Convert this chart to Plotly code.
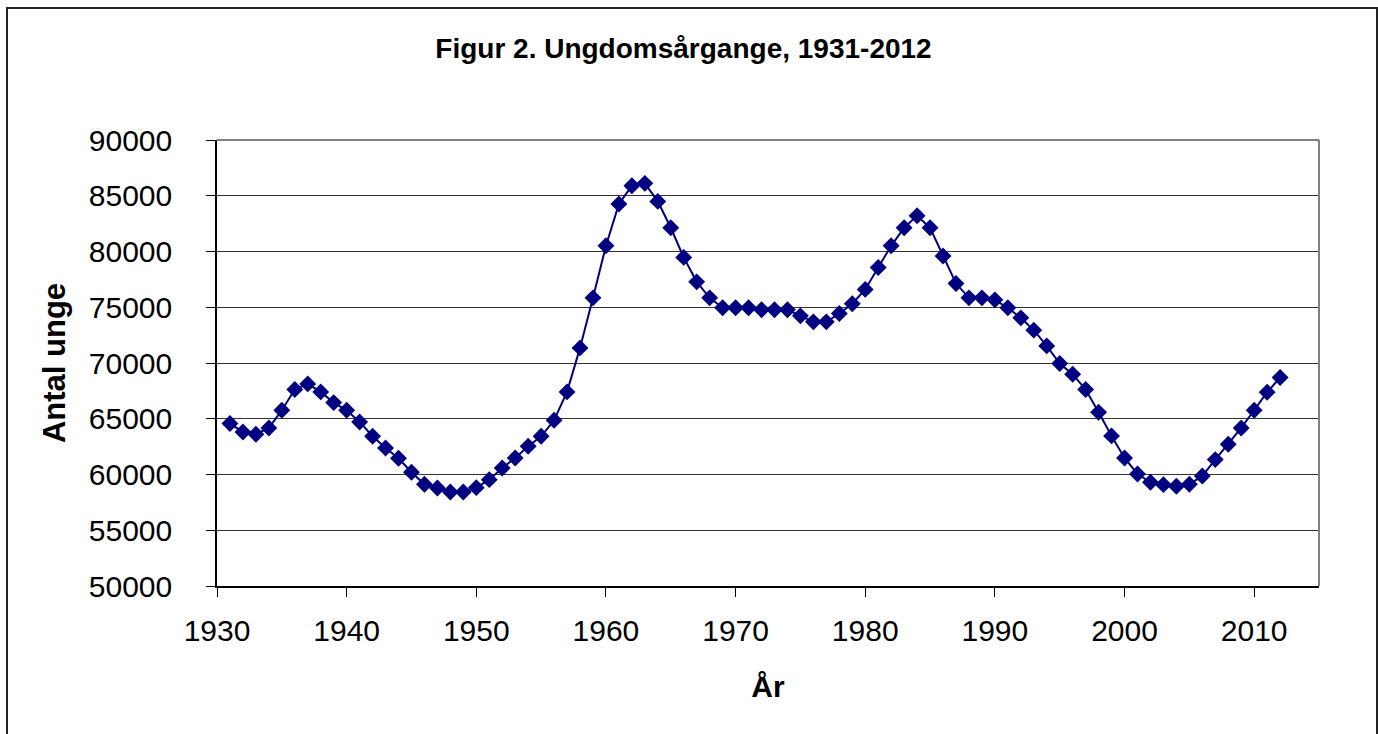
import plotly.graph_objects as go

years = list(range(1931, 2013))
antal = [
    64570, 63815, 63610, 64175, 65760, 67620, 68125, 67410, 66450, 65760,  # 1931-1940
    64715, 63430, 62380, 61455, 60200, 59120, 58790, 58430, 58430, 58820,  # 1941-1950
    59540, 60585, 61480, 62530, 63430, 64865, 67410, 71355, 75845, 80510,  # 1951-1960
    84255, 85900, 86110, 84495, 82130, 79470, 77280, 75845, 74950, 74950,  # 1961-1970
    74950, 74770, 74770, 74770, 74230, 73690, 73690, 74440, 75310, 76600,  # 1971-1980
    78570, 80510, 82130, 83205, 82130, 79590, 77135, 75845, 75845, 75665,  # 1981-1990
    74950, 74050, 72945, 71535, 69955, 68995, 67620, 65580, 63460, 61480,  # 1991-2000
    60045, 59300, 59090, 58940, 59120, 59870, 61335, 62710, 64175, 65760,  # 2001-2010
    67380, 68700,                                                          # 2011-2012
]

title_text = "Figur 2. Ungdomsårgange, 1931-2012"
x_title = "År"
y_title = "Antal unge"
x_ticks = [1930, 1940, 1950, 1960, 1970, 1980, 1990, 2000, 2010]
y_ticks = [50000, 55000, 60000, 65000, 70000, 75000, 80000, 85000, 90000]

FONT = "Liberation Sans, Arial, sans-serif"
W, H = 1378, 734
L, R, T, B = 217, 1319, 140, 586

fig = go.Figure()
fig.add_trace(go.Scatter(
    x=years, y=antal, mode="lines+markers",
    line=dict(color="#000080", width=2),
    marker=dict(symbol="diamond", size=13, color="#000080"),
    showlegend=False,
))

fig.update_layout(
    width=W, height=H,
    margin=dict(l=L, r=W - R, t=T, b=H - B, pad=0),
    paper_bgcolor="white", plot_bgcolor="white",
    font=dict(family=FONT, color="black"),
    title=dict(text="<b>" + title_text + "</b>", x=683.5 / W, xanchor="center",
               y=1 - 48 / H, yanchor="middle", font=dict(size=28, family=FONT)),
)

fig.update_xaxes(
    range=[1930, 2015], tickmode="array", tickvals=x_ticks,
    ticks="outside", ticklen=9, tickcolor="black", tickwidth=1,
    showline=True, linecolor="black", linewidth=1.5,
    showgrid=False, zeroline=False,
    tickfont=dict(size=30, family=FONT), ticklabelstandoff=8,
    title=dict(text="<b>" + x_title + "</b>", font=dict(size=30, family=FONT), standoff=30),
)
fig.update_yaxes(
    range=[50000, 90000], tickmode="array", tickvals=y_ticks,
    tickformat="d",
    ticks="outside", ticklen=9, tickcolor="black", tickwidth=1,
    showline=True, linecolor="black", linewidth=1.5,
    showgrid=True, gridcolor="#333333", gridwidth=1.2,
    zeroline=False,
    tickfont=dict(size=30, family=FONT), ticklabelstandoff=28,
    title=dict(text="<b>" + y_title + "</b>", font=dict(size=31, family=FONT), standoff=14),
)

# plot area top / right border (grey)
fig.add_shape(type="line", xref="paper", yref="paper", x0=0, x1=1, y0=1, y1=1,
              line=dict(color="#808080", width=2))
fig.add_shape(type="line", xref="paper", yref="paper", x0=1, x1=1, y0=0, y1=1,
              line=dict(color="#808080", width=2))

# outer chart border
pw, ph = R - L, B - T
fig.add_shape(type="rect", xref="paper", yref="paper",
              x0=(7 - L) / pw, x1=(1377 - L) / pw,
              y0=(B - 760) / ph, y1=(B - 8) / ph,
              line=dict(color="#222222", width=2), fillcolor="rgba(0,0,0,0)", layer="below")

fig.write_html(
    "out.html",
    config={"displayModeBar": False},
    post_script="document.body.style.margin='0';document.body.style.overflow='hidden';",
)
